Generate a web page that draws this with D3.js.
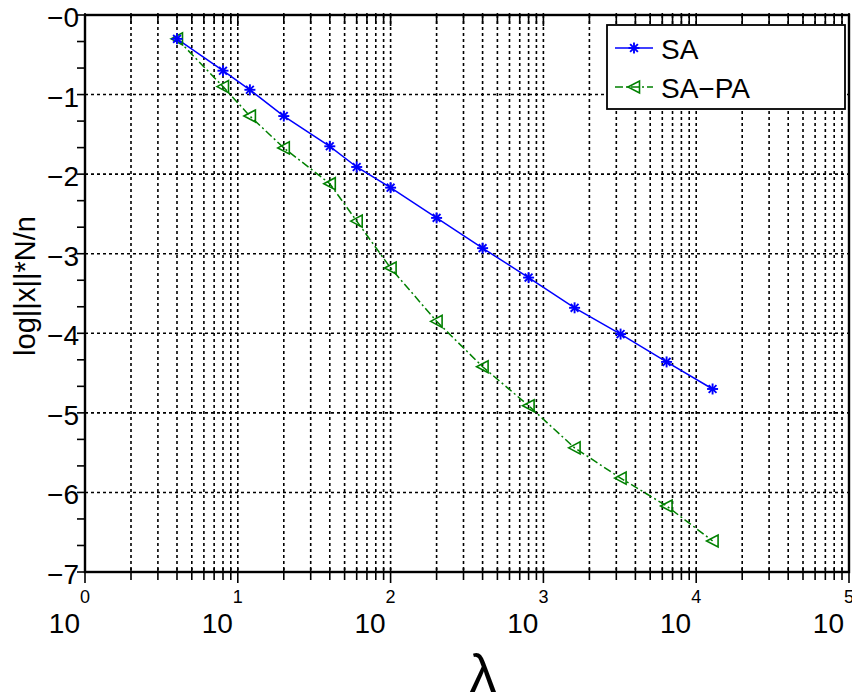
<!DOCTYPE html>
<html>
<head>
<meta charset="utf-8">
<script src="https://cdn.jsdelivr.net/npm/d3@7"></script>
<style>
  html, body { margin: 0; padding: 0; background: #fff; }
  svg { display: block; }
  text { font-family: "Liberation Sans", Arial, Helvetica, sans-serif; fill: #000; }
</style>
</head>
<body>
<svg id="chart" width="852" height="698"></svg>
<script>
// ---- data ----
const lambdaVals = [4, 8, 12, 20, 40, 60, 100, 200, 400, 800, 1600, 3200, 6400, 12800];
const saVals     = [-0.30, -0.70, -0.94, -1.27, -1.65, -1.91, -2.17, -2.55, -2.93, -3.30, -3.68, -4.01, -4.36, -4.70];
const sapaVals   = [-0.30, -0.90, -1.27, -1.67, -2.12, -2.59, -3.18, -3.85, -4.42, -4.91, -5.44, -5.82, -6.17, -6.61];
const seriesNames = ["SA", "SA\u2212PA"];
const yTickVals   = [0, -1, -2, -3, -4, -5, -6, -7];
const yTickLabels = ["\u22120", "\u22121", "\u22122", "\u22123", "\u22124", "\u22125", "\u22126", "\u22127"];
const xTickExps   = [0, 1, 2, 3, 4, 5];
const xTickBase   = "10";
const yLabel = "log||x||*N/n";
const xLabel = "\u03bb";

// ---- layout ----
const L = 85, R = 849, T = 15, B = 572;
const svg = d3.select("#chart");
const x = d3.scaleLog().domain([1, 1e5]).range([L, R]);
const y = d3.scaleLinear().domain([0, -7]).range([T, B]);

const majorX = xTickExps.map(e => Math.pow(10, e));
const minorX = [];
for (let e = 0; e < 5; e++) for (let k = 2; k <= 9; k++) minorX.push(k * Math.pow(10, e));
const minorY = [];
for (let i = 0; i < 7; i++) { minorY.push(-i - 1/3); minorY.push(-i - 2/3); }

// ---- grid ----
const grid = svg.append("g").attr("stroke", "#000").attr("stroke-width", 1.6)
  .attr("stroke-dasharray", "3,3");
grid.selectAll(".vg").data(majorX.slice(1, -1).concat(minorX)).enter().append("line")
  .attr("x1", d => x(d)).attr("x2", d => x(d)).attr("y1", T).attr("y2", B);
grid.selectAll(".hg").data(yTickVals.slice(1, -1)).enter().append("line")
  .attr("x1", L).attr("x2", R).attr("y1", d => y(d)).attr("y2", d => y(d));

// ---- ticks ----
const ticks = svg.append("g").attr("stroke", "#000").attr("stroke-width", 1.6);
// bottom
ticks.selectAll(".bt").data(minorX).enter().append("line")
  .attr("x1", d => x(d)).attr("x2", d => x(d)).attr("y1", B - 4).attr("y2", B + 8);
ticks.selectAll(".bT").data(majorX).enter().append("line")
  .attr("x1", d => x(d)).attr("x2", d => x(d)).attr("y1", B - 4).attr("y2", B + 11);
// top
ticks.selectAll(".tt").data(minorX).enter().append("line")
  .attr("x1", d => x(d)).attr("x2", d => x(d)).attr("y1", T - 2).attr("y2", T + 9);
ticks.selectAll(".tT").data(majorX).enter().append("line")
  .attr("x1", d => x(d)).attr("x2", d => x(d)).attr("y1", T - 2).attr("y2", T + 11);
// left
ticks.selectAll(".lt").data(yTickVals.concat(minorY)).enter().append("line")
  .attr("x1", L - 8).attr("x2", L).attr("y1", d => y(d)).attr("y2", d => y(d));

// ---- frame ----
svg.append("rect").attr("x", L).attr("y", T).attr("width", R - L).attr("height", B - T)
  .attr("fill", "none").attr("stroke", "#000").attr("stroke-width", 2.4);

// ---- y tick labels ----
svg.append("g").selectAll("text").data(yTickVals).enter().append("text")
  .attr("x", 79).attr("y", d => y(d) + 12)
  .attr("text-anchor", "end").attr("font-size", 28)
  .text((d, i) => yTickLabels[i]);

// ---- x tick labels (10 with superscript exponent) ----
const xl = svg.append("g");
xl.selectAll(".base").data(xTickExps).enter().append("text")
  .attr("x", d => x(Math.pow(10, d)) - 5).attr("y", 633)
  .attr("text-anchor", "end").attr("font-size", 28).text(xTickBase);
xl.selectAll(".exp").data(xTickExps).enter().append("text")
  .attr("x", d => x(Math.pow(10, d))).attr("y", 603)
  .attr("text-anchor", "middle").attr("font-size", 18).text(d => String(d));

// ---- axis labels ----
svg.append("text").attr("transform", "translate(35,286) rotate(-90)")
  .attr("text-anchor", "middle").attr("font-size", 29).text(yLabel);
svg.append("text").attr("x", 483).attr("y", 692)
  .attr("text-anchor", "middle").attr("font-size", 54).text(xLabel);

// ---- markers ----
function asterisk(g, cx, cy, color) {
  const r = 5.5;
  [0, 45, 90, 135].forEach(a => {
    const rad = a * Math.PI / 180;
    g.append("line")
      .attr("x1", cx - r * Math.cos(rad)).attr("y1", cy - r * Math.sin(rad))
      .attr("x2", cx + r * Math.cos(rad)).attr("y2", cy + r * Math.sin(rad))
      .attr("stroke", color).attr("stroke-width", 1.9);
  });
}
function triLeft(g, cx, cy, color) {
  g.append("path")
    .attr("d", `M${cx - 6},${cy} L${cx + 5.5},${cy - 6} L${cx + 5.5},${cy + 6} Z`)
    .attr("fill", "none").attr("stroke", color).attr("stroke-width", 1.6);
}

const blue = "#0000ff", green = "#008000";
const line = d3.line().x(d => x(d[0])).y(d => y(d[1]));
const saData = lambdaVals.map((v, i) => [v, saVals[i]]);
const sapaData = lambdaVals.map((v, i) => [v, sapaVals[i]]);

svg.append("path").datum(sapaData).attr("d", line).attr("fill", "none")
  .attr("stroke", green).attr("stroke-width", 1.5).attr("stroke-dasharray", "8,3,2,3");
svg.append("path").datum(saData).attr("d", line).attr("fill", "none")
  .attr("stroke", blue).attr("stroke-width", 1.5);

const mg = svg.append("g");
sapaData.forEach(d => triLeft(mg, x(d[0]), y(d[1]), green));
saData.forEach(d => asterisk(mg, x(d[0]), y(d[1]), blue));

// ---- legend ----
const lg = svg.append("g");
lg.append("rect").attr("x", 607).attr("y", 25).attr("width", 238).attr("height", 84)
  .attr("fill", "#fff").attr("stroke", "#000").attr("stroke-width", 1.8);
const legY = [48, 87];
const legColors = [blue, green];
const legDash = [null, "8,3,2,3"];
seriesNames.forEach((name, i) => {
  lg.append("line").attr("x1", 615).attr("x2", 653).attr("y1", legY[i]).attr("y2", legY[i])
    .attr("stroke", legColors[i]).attr("stroke-width", 1.5)
    .attr("stroke-dasharray", legDash[i]);
  if (i === 0) asterisk(lg, 634, legY[i], blue); else triLeft(lg, 634, legY[i], green);
  lg.append("text").attr("x", 661).attr("y", legY[i] + 10.5).attr("font-size", 28).text(name);
});
</script>
</body>
</html>
